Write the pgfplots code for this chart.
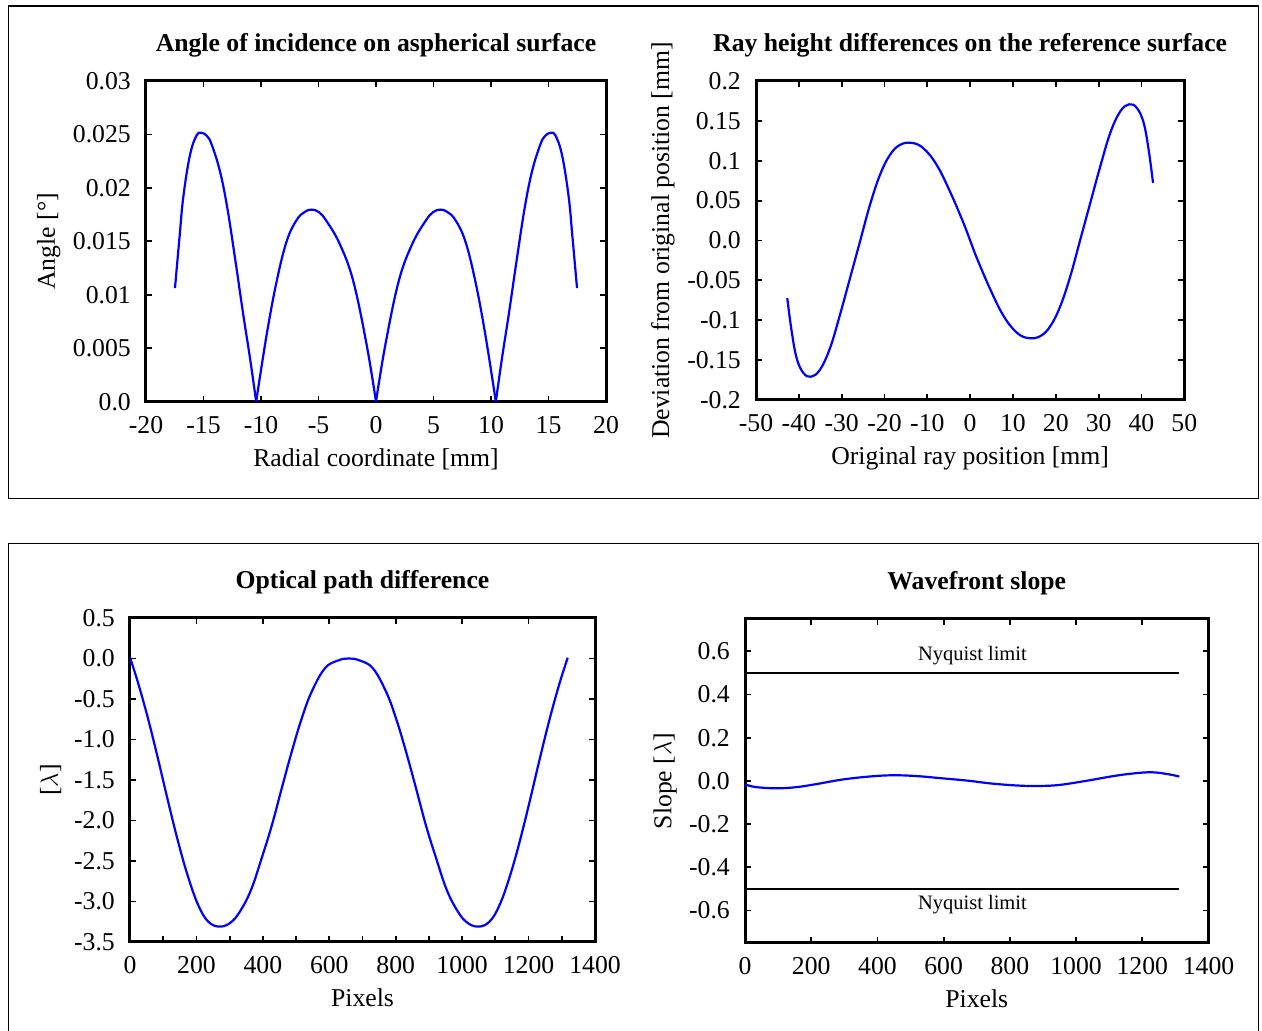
\documentclass[border=0pt]{standalone}
\usepackage{fontspec}
\setmainfont{Liberation Serif}
\usepackage{pgfplots}
\pgfplotsset{compat=1.18}

\newcommand\tl{\fontsize{25.7}{30}\selectfont}
\newcommand\nl{\fontsize{20.5}{24}\selectfont}

\pgfplotsset{
  crv/.style={blue, line width=2.2pt, smooth, tension=0.65, no markers},
  gp/.style={
    scale only axis,
    scaled ticks=false,
    axis line style={line width=3pt, line join=miter},
    tick style={black, line width=1.8pt},
    major tick length=6pt,
    tick align=inside,
    xtick pos=both, ytick pos=both,
    xticklabel style={font=\tl, anchor=base, inner sep=0pt, yshift=-31.5pt},
    yticklabel style={font=\tl, anchor=east, inner sep=0pt, xshift=-15pt},
    every axis title/.style={font=\tl\bfseries, at={(axis description cs:0.5,1)}, anchor=base, inner sep=0pt, yshift=29.5pt},
    every axis x label/.style={font=\tl, at={(axis description cs:0.5,0)}, anchor=base, inner sep=0pt, yshift=-64.5pt},
    every axis y label/.style={font=\tl, rotate=90, anchor=base, inner sep=0pt},
  }
}

\begin{document}
\begin{tikzpicture}[x=1pt,y=1pt]
\useasboundingbox (0,0) rectangle (1262,1031);
\draw[line width=1.3pt] (8.2,1025) rectangle (1258.7,532.7);
\draw[line width=1.3pt] (8.2,-2) -- (8.2,487.7) -- (1258.7,487.7) -- (1258.7,-2);

% Panel 1
\begin{axis}[gp,
  at={(146pt,629.3pt)}, anchor=south west,
  width=460pt, height=320.7pt,
  xmin=-20, xmax=20, ymin=0, ymax=0.03,
  xtick={-20,-15,-10,-5,0,5,10,15,20},
  xticklabels={-20,-15,-10,-5,0,5,10,15,20},
  ytick={0,0.005,0.01,0.015,0.02,0.025,0.03},
  yticklabels={0.0,0.005,0.01,0.015,0.02,0.025,0.03},
  title={Angle of incidence on aspherical surface},
  xlabel={Radial coordinate [mm]},
  ylabel={Angle [°]},
  ylabel style={at={(axis description cs:-0.198,0.5)}},
]
\addplot[crv] coordinates {(-17.48,0.01063) (-17.1,0.0152) (-16.75,0.0192) (-16.17,0.0231) (-15.6,0.0249) (-15.16,0.02515) (-14.7,0.02485) (-14.29,0.02406) (-13.57,0.02156) (-12.93,0.01813) (-12.26,0.01344) (-11.54,0.00813) (-10.96,0.0041) (-10.42,0)};
\addplot[crv] coordinates {(-10.42,0) (-9.51,0.00625) (-8.64,0.01125) (-7.77,0.0150) (-6.90,0.0170) (-6.2,0.01775) (-5.59,0.01797) (-4.95,0.01772) (-4.29,0.01688) (-3.13,0.0147) (-1.97,0.01125) (-0.81,0.0053) (0,0)};
\addplot[crv] coordinates {(0,0) (0.81,0.0053) (1.97,0.01125) (3.13,0.0147) (4.29,0.01688) (4.95,0.01772) (5.59,0.01797) (6.2,0.01775) (6.90,0.0170) (7.77,0.0150) (8.64,0.01125) (9.51,0.00625) (10.42,0)};
\addplot[crv] coordinates {(10.42,0) (10.96,0.0041) (11.54,0.00813) (12.26,0.01344) (12.93,0.01813) (13.57,0.02156) (14.29,0.02406) (14.7,0.02485) (15.16,0.02515) (15.6,0.0249) (16.17,0.0231) (16.75,0.0192) (17.1,0.0152) (17.48,0.01063)};
\end{axis}

% Panel 2
\begin{axis}[gp,
  at={(756pt,631pt)}, anchor=south west,
  width=428.3pt, height=319pt,
  xmin=-50, xmax=50, ymin=-0.2, ymax=0.2,
  xtick={-50,-40,-30,-20,-10,0,10,20,30,40,50},
  xticklabels={-50,-40,-30,-20,-10,0,10,20,30,40,50},
  ytick={-0.2,-0.15,-0.1,-0.05,0,0.05,0.1,0.15,0.2},
  yticklabels={-0.2,-0.15,-0.1,-0.05,0.0,0.05,0.1,0.15,0.2},
  title={Ray height differences on the reference surface},
  xlabel={Original ray position [mm]},
  ylabel={Deviation from original position [mm]},
  ylabel style={at={(axis description cs:-0.203,0.5)}},
]
\addplot[crv] coordinates {(-42.7,-0.0723) (-41.67,-0.114) (-40.51,-0.1475) (-38.95,-0.166) (-37.16,-0.1708) (-35.06,-0.162) (-32.72,-0.135) (-30.39,-0.0931) (-28.05,-0.0472) (-25.72,-0.0013) (-23.39,0.0447) (-21.05,0.0823) (-18.72,0.1074) (-16.38,0.1199) (-13.66,0.1224) (-10.93,0.1157) (-7.82,0.0948) (-4.71,0.0614) (-1.60,0.0225) (0,0) (1.60,-0.0225) (4.71,-0.0614) (7.82,-0.0948) (10.93,-0.1157) (13.66,-0.1224) (16.38,-0.1199) (18.72,-0.1074) (21.05,-0.0823) (23.39,-0.0447) (25.72,0.0013) (28.05,0.0472) (30.39,0.0931) (32.72,0.135) (35.06,0.162) (37.16,0.1708) (38.95,0.166) (40.51,0.1475) (41.67,0.114) (42.7,0.0723)};
\end{axis}

% Panel 3
\begin{axis}[gp,
  at={(130pt,89pt)}, anchor=south west,
  width=465pt, height=324pt,
  xmin=0, xmax=1400, ymin=-3.5, ymax=0.5,
  xtick={0,200,400,600,800,1000,1200,1400},
  xticklabels={0,200,400,600,800,1000,1200,1400},
  extra x ticks={100,300,500,700,900,1100,1300},
  extra x tick labels={},
  extra x tick style={xtick pos=left},
  ytick={-3.5,-3,-2.5,-2,-1.5,-1,-0.5,0,0.5},
  yticklabels={-3.5,-3.0,-2.5,-2.0,-1.5,-1.0,-0.5,0.0,0.5},
  title={Optical path difference},
  xlabel={Pixels},
  ylabel={[$\lambda$]},
  ylabel style={at={(axis description cs:-0.155,0.5)}},
]
\addplot[crv] coordinates {(0,0.01) (25,-0.31) (55,-0.754) (85,-1.25) (115,-1.77) (146,-2.28) (176,-2.71) (206,-3.05) (236,-3.25) (271,-3.31) (306,-3.25) (336,-3.09) (366,-2.84) (396,-2.47) (427,-2.06) (457,-1.60) (487,-1.15) (517,-0.74) (547,-0.41) (587,-0.12) (627,-0.024) (659,0) (691,-0.024) (731,-0.12) (771,-0.41) (801,-0.74) (831,-1.15) (861,-1.60) (891,-2.06) (922,-2.47) (952,-2.84) (982,-3.09) (1012,-3.25) (1047,-3.31) (1082,-3.25) (1112,-3.05) (1142,-2.71) (1172,-2.28) (1203,-1.77) (1233,-1.25) (1263,-0.754) (1293,-0.31) (1318,0.01)};
\end{axis}

% Panel 4
\begin{axis}[gp,
  at={(745pt,88pt)}, anchor=south west,
  width=463.5pt, height=324pt,
  xmin=0, xmax=1400, ymin=-0.75, ymax=0.75,
  xtick={0,200,400,600,800,1000,1200,1400},
  xticklabels={0,200,400,600,800,1000,1200,1400},
  ytick={-0.6,-0.4,-0.2,0,0.2,0.4,0.6},
  yticklabels={-0.6,-0.4,-0.2,0.0,0.2,0.4,0.6},
  title={Wavefront slope},
  xlabel={Pixels},
  ylabel={Slope [$\lambda$]},
  ylabel style={at={(axis description cs:-0.159,0.5)}},
]
\addplot[black, line width=2pt, no markers] coordinates {(0,0.5) (1311,0.5)};
\addplot[black, line width=2pt, no markers] coordinates {(0,-0.5) (1311,-0.5)};
\addplot[crv] coordinates {(0,-0.0153) (31,-0.0278) (92,-0.0338) (152,-0.029) (212,-0.0153) (293,0.0065) (374,0.0204) (444,0.0264) (514,0.0232) (595,0.0125) (676,0.001) (746,-0.012) (827,-0.0213) (887,-0.023) (948,-0.0185) (1028,0) (1109,0.0218) (1169,0.0343) (1229,0.0403) (1280,0.031) (1312,0.0204)};
\node[font=\nl, anchor=base, inner sep=0pt] at (axis cs:687,0.556) {Nyquist limit};
\node[font=\nl, anchor=base, inner sep=0pt] at (axis cs:687,-0.5945) {Nyquist limit};
\end{axis}
\end{tikzpicture}
\end{document}
